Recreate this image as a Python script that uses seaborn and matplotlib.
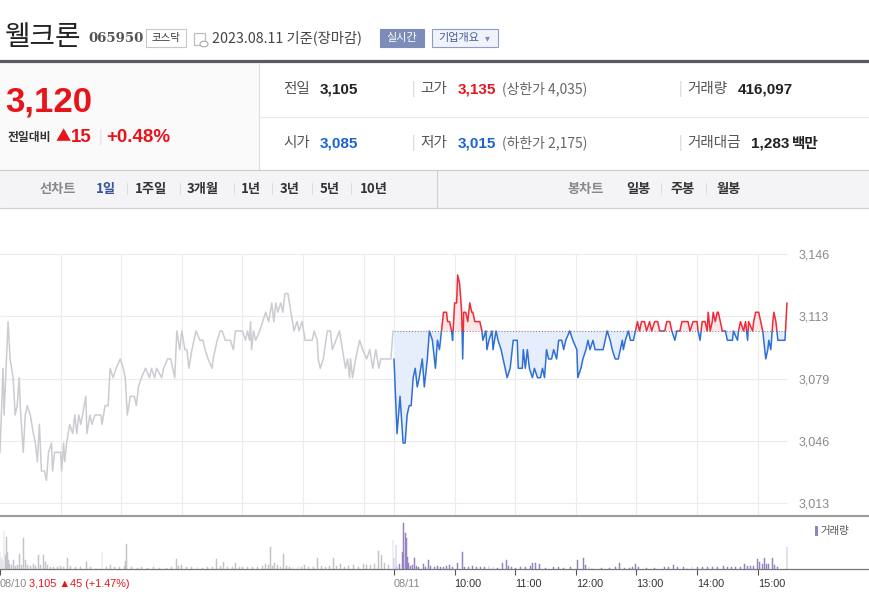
import numpy as np
import matplotlib
matplotlib.use("Agg")
import matplotlib.pyplot as plt
import seaborn as sns
from matplotlib.patches import Rectangle, Circle
from matplotlib.lines import Line2D

# ---------------- data ----------------
prev_close = 3105
day1_time = [0,3,4,8,10,13,15,17,19,20,
             23,25,27,30,33,35,37,39,41,44,
             46,48,51,52,54,57,60,61,63,64,
             66,69,72,74,76,78,80,85,86,89,
             91,94,100,101,104,107,109,112,115,119,
             122,124,126,129,133,135,137,140,144,148,
             150,153,155,160,162,166,169,173,175,178,
             180,183,185,187,190,194,198,201,203,206,
             210,211,215,218,220,223,228,231,233,240,
             243,245,247,248,249,251,253,257,260,263,
             266,269,271,273,275,278,280,282,285,288,
             291,294,296,299,302,309,311,314,315,317,
             320,324,327,329,336,339,342,344,346,347,
             349,352,356,359,363,366,369,372,375,377,
             387,389]
day1_price = [3040,3085,3060,3110,3090,3080,3060,3065,3080,3065,
              3040,3060,3065,3060,3050,3045,3035,3055,3030,3030,
              3025,3040,3045,3030,3040,3040,3040,3030,3045,3035,
              3045,3055,3050,3060,3050,3060,3055,3070,3050,3060,
              3055,3060,3060,3055,3065,3065,3085,3080,3085,3090,
              3085,3080,3060,3070,3070,3065,3075,3080,3085,3080,
              3085,3080,3085,3080,3085,3090,3090,3080,3105,3095,
              3105,3095,3095,3085,3095,3105,3100,3100,3095,3090,
              3085,3090,3100,3105,3105,3100,3100,3095,3105,3105,
              3100,3105,3100,3110,3095,3105,3100,3105,3110,3115,
              3110,3120,3110,3120,3115,3120,3115,3125,3125,3115,
              3105,3110,3105,3110,3100,3100,3105,3100,3090,3085,
              3090,3105,3105,3095,3105,3095,3085,3090,3080,3090,
              3080,3090,3100,3095,3090,3095,3085,3095,3085,3090,
              3090,3105]
day2_time = [0,3,6,9,11,13,15,17,19,21,
             23,25,28,30,33,35,38,39,41,43,
             45,47,49,52,53,55,57,58,60,62,
             63,65,67,68,69,71,73,75,77,78,
             80,82,85,87,88,91,92,94,97,98,
             101,103,106,108,110,112,115,118,122,123,
             127,128,130,132,134,137,139,142,145,147,
             149,151,153,156,158,161,163,166,168,170,
             174,177,181,182,185,187,190,192,194,197,
             199,207,209,211,214,216,219,222,224,226,
             227,229,232,234,237,239,241,243,245,248,
             250,253,255,258,261,263,268,270,273,275,
             278,280,283,285,291,293,296,300,301,303,
             305,308,310,311,313,315,316,318,320,321,
             323,325,328,330,335,336,340,341,343,346,
             348,350,351,355,356,358,361,363,365,366,
             368,370,371,373,375,376,378,380,387,389]
day2_price = [3090,3050,3070,3045,3045,3060,3065,3065,3080,3085,
              3075,3080,3090,3075,3090,3105,3100,3095,3085,3100,
              3095,3105,3115,3115,3110,3110,3105,3100,3120,3120,
              3135,3130,3115,3090,3115,3115,3110,3120,3115,3115,
              3110,3110,3110,3105,3100,3105,3095,3100,3105,3095,
              3105,3100,3095,3090,3085,3080,3085,3100,3100,3085,
              3085,3095,3085,3095,3085,3080,3085,3080,3080,3085,
              3080,3095,3090,3090,3095,3090,3100,3100,3095,3100,
              3105,3100,3095,3080,3085,3090,3095,3100,3095,3100,
              3095,3095,3100,3105,3100,3095,3090,3090,3095,3100,
              3095,3100,3105,3100,3100,3105,3110,3105,3110,3110,
              3105,3110,3105,3110,3110,3105,3105,3110,3110,3105,
              3100,3105,3105,3110,3110,3105,3110,3110,3105,3100,
              3110,3110,3105,3115,3105,3110,3115,3110,3115,3115,
              3110,3105,3105,3100,3100,3105,3100,3105,3110,3105,
              3110,3100,3110,3105,3110,3115,3115,3110,3105,3100,
              3090,3095,3100,3095,3110,3115,3110,3100,3100,3120]
vol1_time = [0,1,2,3,4,5,6,7,8,9,
             11,13,15,17,19,21,23,25,27,30,
             33,35,38,40,43,45,47,50,53,57,
             60,63,67,70,75,80,86,90,95,101,
             105,109,113,118,123,124,125,130,136,140,
             146,152,158,165,170,175,177,180,185,190,
             195,200,205,210,214,218,221,225,230,233,
             237,240,245,250,255,260,263,266,268,270,
             272,275,278,281,284,287,290,295,298,301,
             305,310,314,318,322,326,330,333,337,341,
             345,350,355,360,363,367,371,375,378,381,
             385,389]
vol1 = [8500,5000,6000,4000,19000,7000,16000,8500,4500,2500,
        2000,4500,1500,2000,7500,2000,15500,4500,2000,1500,
        2500,1500,7000,2000,7000,3500,2000,1000,1000,800,
        1500,1000,5500,1500,800,1200,3500,800,600,8500,
        1000,2000,1000,900,1500,4000,12500,800,700,900,
        600,800,700,600,900,5000,1500,1800,1200,1000,
        900,700,800,1000,5000,1500,3500,1000,800,3000,
        1000,1200,900,1000,800,1500,2500,2000,11000,1500,
        3000,1800,1200,7500,1500,1000,800,1500,1200,2000,
        1000,1200,5500,1500,1000,1500,5500,1500,2500,1000,
        1500,2000,1200,2500,1800,2000,2500,9000,7000,3000,
        2000,14500]
vol2_time = [0,2,3,5,8,9,11,12,13,14,
             16,18,20,22,24,29,31,34,36,40,
             43,46,49,52,55,58,63,68,70,74,
             78,82,86,90,94,98,102,107,111,113,
             116,120,125,130,135,137,140,144,150,158,
             163,168,175,182,188,190,193,196,205,213,
             219,223,228,233,236,239,242,250,258,268,
             272,277,281,287,290,295,300,305,310,315,
             320,326,330,334,338,343,347,350,353,356,
             360,362,365,367,369,371,375,377,380,389]
vol2 = [5500,12000,1500,2500,8500,23000,18000,15500,6000,3000,
        1500,2000,5500,1500,1000,2500,1200,4500,1500,1000,
        1500,1200,1000,1500,1800,1200,3000,8500,1200,1000,
        1500,800,1200,1000,1300,1200,700,3000,4500,1500,
        800,700,1000,800,1500,2800,2800,2300,500,800,
        900,700,1200,4500,5500,2000,1000,600,400,600,
        800,2800,500,700,1000,2500,800,400,500,1000,
        1200,2000,800,1000,600,900,800,1200,1000,800,
        1000,1600,1200,800,900,1000,2500,1500,1300,1500,
        5000,3500,2500,5500,2500,2500,5500,2000,800,11000]
ytick_values = [3013, 3046.25, 3079.5, 3112.75, 3146]
ytick_labels = ["3,013", "3,046", "3,079", "3,113", "3,146"]
hour_minutes = [0, 60, 120, 180, 240, 300, 360]
xtick_labels = ["08/10", "08/11", "10:00", "11:00", "12:00", "13:00", "14:00", "15:00"]

# ---------------- style ----------------
sns.set_theme(style="white")
plt.rcParams['font.family'] = ['Noto Sans CJK KR', 'DejaVu Sans']
plt.rcParams['axes.unicode_minus'] = False

W, H = 869, 607
fig = plt.figure(figsize=(W / 100, H / 100), dpi=100)
fig.patch.set_facecolor('white')

def fx(x): return x / W
def fy(y): return 1 - y / H

def txt(x, y, s, size=10, color='#333333', weight='normal', ha='left', va='center', family=None):
    kw = {}
    if family is not None:
        kw['family'] = family
    fig.text(fx(x), fy(y), s, fontsize=size, color=color, weight=weight, ha=ha, va=va, **kw)

def box(x0, y0, x1, y1, fc='none', ec='none', lw=0.8, z=0):
    fig.add_artist(Rectangle((fx(x0), fy(y1)), fx(x1) - fx(x0), fy(y0) - fy(y1),
                             transform=fig.transFigure, facecolor=fc, edgecolor=ec, lw=lw, zorder=z))

def hl(y, x0, x1, color, lw):
    fig.add_artist(Line2D([fx(x0), fx(x1)], [fy(y), fy(y)], transform=fig.transFigure, color=color, lw=lw))

def vl(x, y0, y1, color, lw):
    fig.add_artist(Line2D([fx(x), fx(x)], [fy(y0), fy(y1)], transform=fig.transFigure, color=color, lw=lw))

RED = '#e8141c'
BLUE = '#1a63d1'
sans = ['Liberation Sans', 'Noto Sans CJK KR']

# ---------------- header ----------------
txt(5, 37, "웰크론", size=20, color='#222222')
txt(88, 39, "065950", size=9.5, color='#555555', weight='bold', family=['DejaVu Serif'])
box(146, 29, 186, 47, fc='white', ec='#c8c8c8')
txt(166, 38, "코스닥", size=7.5, color='#333333', ha='center')
box(194, 33, 205, 45, fc='white', ec='#bdbdbd', lw=0.9)
fig.add_artist(Circle((fx(204), fy(44)), 4 / W, transform=fig.transFigure, fc='white', ec='#aaaaaa', lw=0.8))
txt(212, 38, "2023.08.11 기준(장마감)", size=10.3, color='#444444')
box(380, 29, 424, 47, fc='#7b8cb8', ec='#7b8cb8')
txt(402, 38, "실시간", size=8, color='white', ha='center')
box(432, 29, 498, 47, fc='#f1f3fa', ec='#8e9cc4')
txt(438, 38, "기업개요", size=8, color='#465a96')
txt(485, 38, "▾", size=7, color='#7c8ab5', family=['DejaVu Sans'])

hl(61, 0, W, '#585b61', 2.3)

# ---------------- info panel ----------------
box(0, 63, 259, 170, fc='#fafafa')
vl(259, 63, 170, '#dddddd', 0.8)
hl(117, 259, W, '#e8e8e8', 0.8)

txt(5, 102, "3,120", size=25, color=RED, weight='bold', family=sans)
txt(8, 137, "전일대비", size=8.5, color='#333333', weight='bold')
txt(56, 137, "▲", size=11, color=RED)
txt(71, 137, "15", size=13.5, color=RED, weight='bold', family=sans)
txt(99, 137, "|", size=10, color='#dddddd')
txt(106, 137, "+0.48%", size=13.5, color=RED, weight='bold', family=sans)

r1, r2 = 89, 143
txt(283, r1, "전일", size=10.5, color='#555555')
txt(320, r1, "3,105", size=11, color='#222222', weight='bold', family=sans)
txt(412, r1, "|", size=10, color='#cccccc')
txt(420, r1, "고가", size=10.5, color='#555555')
txt(458, r1, "3,135", size=11, color=RED, weight='bold', family=sans)
txt(502, r1, "(상한가 4,035)", size=10, color='#666666')
txt(679, r1, "|", size=10, color='#cccccc')
txt(687, r1, "거래량", size=10.5, color='#555555')
txt(738, r1, "416,097", size=11, color='#222222', weight='bold', family=sans)

txt(283, r2, "시가", size=10.5, color='#555555')
txt(320, r2, "3,085", size=11, color=BLUE, weight='bold', family=sans)
txt(412, r2, "|", size=10, color='#cccccc')
txt(420, r2, "저가", size=10.5, color='#555555')
txt(458, r2, "3,015", size=11, color=BLUE, weight='bold', family=sans)
txt(502, r2, "(하한가 2,175)", size=10, color='#666666')
txt(679, r2, "|", size=10, color='#cccccc')
txt(687, r2, "거래대금", size=10.5, color='#555555')
txt(751, r2, "1,283", size=11, color='#222222', weight='bold', family=sans)
txt(792, r2, "백만", size=10.5, color='#222222', weight='bold')

# ---------------- tabs ----------------
box(0, 170, W, 208, fc='#f4f4f6')
hl(170, 0, W, '#cfcfcf', 0.9)
hl(208, 0, W, '#d2d2d2', 0.9)
vl(437, 170, 208, '#d0d0d0', 0.8)
ty = 189
txt(40, ty, "선차트", size=9.5, color='#888888', weight='bold')
txt(96, ty, "1일", size=9.5, color='#34549e', weight='bold')
for sx in [126, 179, 233, 271, 311, 350]:
    txt(sx, ty, "|", size=8, color='#d5d5d5')
for sx, s in [(135, "1주일"), (187, "3개월"), (241, "1년"), (280, "3년"), (320, "5년"), (360, "10년")]:
    txt(sx, ty, s, size=9.5, color='#333333', weight='bold')
txt(567, ty, "봉차트", size=9.5, color='#888888', weight='bold')
txt(626, ty, "일봉", size=9.5, color='#333333', weight='bold')
txt(660, ty, "|", size=8, color='#d5d5d5')
txt(670, ty, "주봉", size=9.5, color='#333333', weight='bold')
txt(705, ty, "|", size=8, color='#d5d5d5')
txt(716, ty, "월봉", size=9.5, color='#333333', weight='bold')

# ---------------- price chart ----------------
x1 = np.array(day1_time, dtype=float)
p1 = np.array(day1_price, dtype=float)
x2 = 390 + np.array(day2_time, dtype=float)
p2 = np.array(day2_price, dtype=float)
XMAX = 780
y_top = 3146.2
y_bot = y_top - (516 - 254) * (133 / 248.4)

axp = fig.add_axes([0, fy(516), fx(788), (516 - 254) / H])
axp.set_facecolor('none')
axp.set_xlim(0, XMAX)
axp.set_ylim(y_bot, y_top)
for s in axp.spines.values():
    s.set_visible(False)

grid_c = '#ececec'
gx = [h for h in hour_minutes[1:]] + [390 + h for h in hour_minutes]
axp.vlines(gx, y_bot, 3146, colors=grid_c, lw=0.8, zorder=0)
axp.hlines(ytick_values, 0, 779.5, colors=grid_c, lw=0.8, zorder=0, clip_on=False)

axp.fill_between(x2, p2, prev_close, where=p2 <= prev_close, interpolate=True,
                 color='#e6eefb', lw=0, zorder=1)
axp.fill_between(x2, p2, prev_close, where=p2 >= prev_close, interpolate=True,
                 color='#fde6e8', lw=0, zorder=1)
axp.hlines(prev_close, 390, 779.5, colors='#8a8a8a', linestyles=(0, (1, 1.6)), lw=0.8, zorder=2)

sns.lineplot(x=x1, y=p1, ax=axp, color='#cbccd2', lw=1.1, estimator=None, sort=False, zorder=3)
sns.lineplot(x=x2, y=p2, ax=axp, color='#ee2b36', lw=1.1, estimator=None, sort=False, zorder=4)
red_line = axp.lines[-1]
red_line.set_clip_path(Rectangle((380, prev_close), 420, 200, transform=axp.transData))
sns.lineplot(x=x2, y=p2, ax=axp, color='#2f70d6', lw=1.1, estimator=None, sort=False, zorder=4)
blue_line = axp.lines[-1]
blue_line.set_clip_path(Rectangle((380, 2900), 420, prev_close - 2900, transform=axp.transData))

axp.set_xlabel('')
axp.set_ylabel('')
axp.set_xticks([])
axp.yaxis.tick_right()
axp.set_yticks(ytick_values)
axp.set_yticklabels(ytick_labels)
axp.tick_params(axis='y', length=0, pad=7.5, labelsize=9, labelcolor='#8a8a8a')
for lab in axp.get_yticklabels():
    lab.set_family(sans)

hl(516, 0, W, '#9c9c9c', 1.5)

# ---------------- volume chart ----------------
axv = fig.add_axes([0, fy(569), fx(788), (569 - 517) / H])
axv.set_facecolor('none')
for s in axv.spines.values():
    s.set_visible(False)
axv.bar(np.array(vol1_time, dtype=float), vol1, width=0.9, color='#c3c3ca',
        edgecolor='#c3c3ca', lw=0.35)
axv.bar(390 + np.array(vol2_time, dtype=float), vol2, width=0.9, color='#9582c4',
        edgecolor='#9582c4', lw=0.35)
axv.set_xlim(0, XMAX)
axv.set_ylim(0, 26000)
axv.set_yticks([])
xt = [0] + [390 + h for h in hour_minutes]
axv.set_xticks(xt)
axv.set_xticklabels(xtick_labels)
axv.tick_params(axis='x', direction='out', length=4.5, width=0.8, color='#555555',
                pad=2.5, labelsize=7.8, bottom=True)
for i, lab in enumerate(axv.get_xticklabels()):
    lab.set_ha('left')
    lab.set_family(['Liberation Sans Narrow', 'Liberation Sans'])
    lab.set_color('#888888' if i < 2 else '#333333')
hl(569, 0, W, '#777777', 0.9)

txt(29, 584, "3,105 ▲45 (+1.47%)", size=7.8, color=RED, family=['Liberation Sans', 'DejaVu Sans'])
box(815, 526, 818, 536, fc='#9582c4')
txt(820, 531, "거래량", size=7.5, color='#555555')

fig.savefig('out.png', dpi=100, facecolor='white')
